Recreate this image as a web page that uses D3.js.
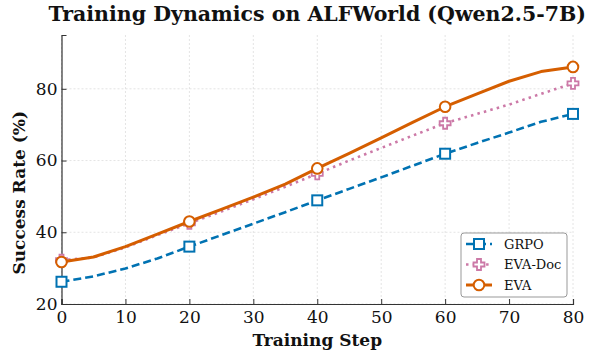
<!DOCTYPE html>
<html>
  <head>
    <script src="https://d3js.org/d3.v7.min.js"></script>
    <style>
      body { margin: 0; background: #fff; }
      text { font-family: "DejaVu Serif", serif; fill: #111; }
    </style>
  </head>
  <body>
    <div id="chart"></div>
    <script>
      // training steps (logged every 5 steps, markers every 20)
      const steps = [0, 5, 10, 15, 20, 25, 30, 35, 40, 45, 50, 55, 60, 65, 70, 75, 80];
      const grpo = [26.2, 27.7, 29.9, 32.7, 36.0, 39.2, 42.4, 45.6, 48.9, 52.1, 55.3, 58.6, 61.9, 64.9, 67.8, 70.8, 73.0];
      const evaDoc = [32.2, 33.0, 35.8, 39.2, 42.5, 45.8, 49.2, 52.7, 56.3, 60.0, 63.5, 67.0, 70.4, 73.0, 75.6, 78.6, 81.5];
      const eva = [31.7, 33.1, 36.0, 39.5, 43.0, 46.4, 49.8, 53.4, 57.8, 62.0, 66.3, 70.7, 75.0, 78.6, 82.1, 84.8, 86.1];
      const markerSteps = [0, 20, 40, 60, 80];
      const xTicks = [0, 10, 20, 30, 40, 50, 60, 70, 80];
      const yTicks = [20, 40, 60, 80];

      const W = 594, H = 353;
      const margin = { top: 35, right: 21, bottom: 49, left: 61.5 };
      const width = W - margin.left - margin.right;
      const height = H - margin.top - margin.bottom;

      const svg = d3.select("#chart").append("svg").attr("width", W).attr("height", H);
      const g = svg.append("g").attr("transform", `translate(${margin.left},${margin.top})`);

      const x = d3.scaleLinear().domain([0, 80]).range([0, width]);
      const y = d3.scaleLinear().domain([20, 95]).range([height, 0]);

      // grid
      g.selectAll(".vgrid").data(xTicks).join("line")
        .attr("x1", d => x(d)).attr("x2", d => x(d)).attr("y1", 0).attr("y2", height)
        .attr("stroke", "#ddd").attr("stroke-width", 0.8).attr("stroke-dasharray", "2,2");
      g.selectAll(".hgrid").data(yTicks).join("line")
        .attr("y1", d => y(d)).attr("y2", d => y(d)).attr("x1", 0).attr("x2", width)
        .attr("stroke", "#ddd").attr("stroke-width", 0.8).attr("stroke-dasharray", "2,2");

      // axes with inward ticks
      const xAxis = g.append("g").attr("transform", `translate(0,${height})`)
        .call(d3.axisBottom(x).tickValues(xTicks).tickSize(-5).tickPadding(7));
      const yAxis = g.append("g")
        .call(d3.axisLeft(y).tickValues(yTicks).tickSize(-5).tickPadding(4));
      [xAxis, yAxis].forEach(a => {
        a.select(".domain").attr("stroke", "#333").attr("stroke-width", 1.2);
        a.selectAll(".tick line").attr("stroke", "#333").attr("stroke-width", 1);
        a.selectAll(".tick text").style("font-family", "DejaVu Serif").style("font-size", "17px").attr("fill", "#111");
      });
      xAxis.selectAll(".tick text").attr("dy", "0.71em");

      const series = [
        { name: "GRPO", values: grpo, color: "#0072B2", dash: "8,4", width: 2.6, marker: "square" },
        { name: "EVA-Doc", values: evaDoc, color: "#CC79A7", dash: "2.5,4.2", width: 2.6, marker: "plus" },
        { name: "EVA", values: eva, color: "#D55E00", dash: null, width: 3, marker: "circle" }
      ];

      const line = d3.line().x(d => x(d[0])).y(d => y(d[1]));

      function drawMarker(sel, type, color) {
        if (type === "square") {
          sel.append("rect").attr("x", -5).attr("y", -5).attr("width", 10).attr("height", 10)
            .attr("fill", "#fff").attr("stroke", color).attr("stroke-width", 2);
        } else if (type === "circle") {
          sel.append("circle").attr("r", 5.3).attr("fill", "#fff").attr("stroke", color).attr("stroke-width", 2);
        } else {
          const a = 2, b = 5.5;
          const p = `M${-a},${-b}H${a}V${-a}H${b}V${a}H${a}V${b}H${-a}V${a}H${-b}V${-a}H${-a}Z`;
          sel.append("path").attr("d", p).attr("fill", "#fff").attr("stroke", color).attr("stroke-width", 1.8);
        }
      }

      series.forEach(s => {
        const pts = steps.map((st, i) => [st, s.values[i]]);
        g.append("path").datum(pts).attr("d", line).attr("fill", "none")
          .attr("stroke", s.color).attr("stroke-width", s.width)
          .attr("stroke-dasharray", s.dash).attr("stroke-linejoin", "round");
        pts.filter(p => markerSteps.includes(p[0])).forEach(p => {
          const m = g.append("g").attr("transform", `translate(${x(p[0])},${y(p[1])})`);
          drawMarker(m, s.marker, s.color);
        });
      });

      // legend
      const lg = svg.append("g").attr("transform", "translate(461,233)");
      lg.append("rect").attr("width", 106).attr("height", 64).attr("rx", 3)
        .attr("fill", "#fff").attr("fill-opacity", 0.85).attr("stroke", "#999").attr("stroke-width", 1);
      series.forEach((s, i) => {
        const ly = 11 + i * 20.5;
        lg.append("line").attr("x1", 5).attr("x2", 31).attr("y1", ly).attr("y2", ly)
          .attr("stroke", s.color).attr("stroke-width", s.width).attr("stroke-dasharray", s.dash);
        const m = lg.append("g").attr("transform", `translate(18,${ly})`);
        drawMarker(m, s.marker, s.color);
        lg.append("text").attr("x", 43).attr("y", ly).attr("dy", "0.35em")
          .style("font-size", "13px").text(s.name);
      });

      // titles
      svg.append("text").attr("x", margin.left + width / 2).attr("y", 21)
        .attr("text-anchor", "middle").style("font-size", "20.5px").style("font-weight", "bold")
        .text("Training Dynamics on ALFWorld (Qwen2.5-7B)");
      svg.append("text").attr("x", margin.left + width / 2).attr("y", 346)
        .attr("text-anchor", "middle").style("font-size", "17px").style("font-weight", "bold")
        .text("Training Step");
      svg.append("text").attr("transform", `translate(25,${margin.top + y(51)}) rotate(-90)`)
        .attr("text-anchor", "middle").style("font-size", "17px").style("font-weight", "bold")
        .text("Success Rate (%)");
    </script>
  </body>
</html>
